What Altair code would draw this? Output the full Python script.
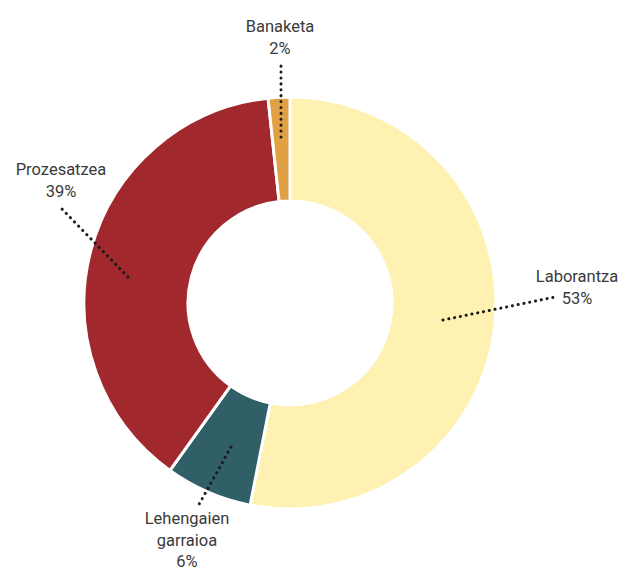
import altair as alt
import pandas as pd

# ---- data ----
categories = ["Laborantza", "Lehengaien garraioa", "Prozesatzea", "Banaketa"]
values = [53.1, 6.8, 38.4, 1.7]
pct_labels = ["53%", "6%", "39%", "2%"]
display_names = ["Laborantza", "Lehengaien\ngarraioa", "Prozesatzea", "Banaketa"]

# ---- styles / layout ----
colors = ["#fef1b1", "#305f68", "#a1292d", "#e1a044"]
# annotation layout, pixel offsets from the donut centre (x right, y up);
# "text" is the centre of the first text line
layout = {
    "Laborantza": {"start": (153, -17), "end": (265, 6), "text": (287, 26)},
    "Lehengaien garraioa": {"start": (-59, -144), "end": (-93, -205), "text": (-103, -216)},
    "Prozesatzea": {"start": (-162, 26), "end": (-229, 95), "text": (-229, 133)},
    "Banaketa": {"start": (-9, 166), "end": (-9, 241), "text": (-10, 276)},
}

W, H = 612, 563
xs = alt.Scale(domain=[-282, 330], nice=False, zero=False)
ys = alt.Scale(domain=[-268, 295], nice=False, zero=False)

df = pd.DataFrame({
    "cat": categories,
    "value": values,
    "order": list(range(len(categories))),
    "text": [f"{n}\n{p}" for n, p in zip(display_names, pct_labels)],
})
df["sx"] = [layout[c]["start"][0] for c in categories]
df["sy"] = [layout[c]["start"][1] for c in categories]
df["ex"] = [layout[c]["end"][0] for c in categories]
df["ey"] = [layout[c]["end"][1] for c in categories]
df["tx"] = [layout[c]["text"][0] for c in categories]
df["ty"] = [layout[c]["text"][1] for c in categories]

base = alt.Chart(df)

arcs = base.mark_arc(innerRadius=102, outerRadius=206, stroke="white", strokeWidth=3).encode(
    theta=alt.Theta("value:Q", stack=True),
    order=alt.Order("order:Q"),
    color=alt.Color("cat:N", scale=alt.Scale(domain=categories, range=colors), legend=None),
    x=alt.datum(0, scale=xs, axis=None),
    y=alt.datum(0, scale=ys, axis=None),
)

leaders = base.mark_rule(color="#1a1a1a", strokeWidth=3, strokeDash=[0.1, 5.8], strokeCap="round").encode(
    x=alt.X("sx:Q", scale=xs, axis=None),
    y=alt.Y("sy:Q", scale=ys, axis=None),
    x2="ex:Q",
    y2="ey:Q",
)

texts = base.mark_text(
    align="center", baseline="middle", lineBreak="\n", fontSize=16.5, lineHeight=21.5,
    font="Roboto", color="#3a3a3a",
).encode(
    x=alt.X("tx:Q", scale=xs, axis=None),
    y=alt.Y("ty:Q", scale=ys, axis=None),
    text="text:N",
)

chart = alt.layer(arcs, leaders, texts).properties(
    width=W, height=H, padding=0, autosize=alt.AutoSizeParams(type="none")
).configure_view(stroke=None)

chart.save("out.html", embed_options={"renderer": "svg", "actions": False})
